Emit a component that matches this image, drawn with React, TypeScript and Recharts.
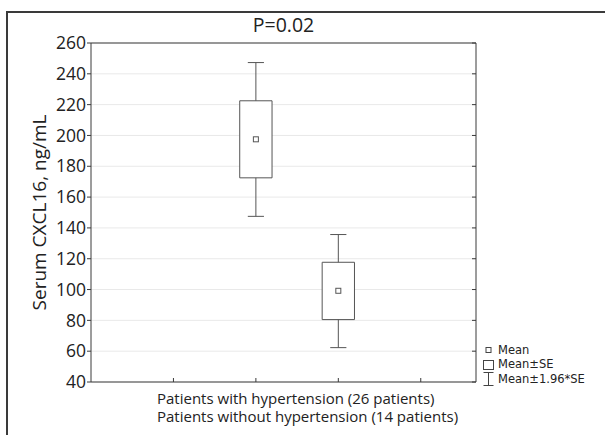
import { CartesianGrid, ComposedChart, Label, ReferenceArea, ReferenceLine, Scatter, XAxis, YAxis } from "recharts"

const groups = ["Patients with hypertension (26 patients)", "Patients without hypertension (14 patients)"]
const groupPos = [2, 3]
const means = [197.5, 99.2]
const boxLow = [172.5, 80.5]
const boxHigh = [222.5, 117.7]
const whiskerLow = [147.5, 62.3]
const whiskerHigh = [247.3, 135.7]

const yTicks = [40, 60, 80, 100, 120, 140, 160, 180, 200, 220, 240, 260]
const xTicks = [1, 2, 3, 4]
const title = "P=0.02"
const yLabel = "Serum CXCL16, ng/mL"
const legendItems = ["Mean", "Mean±SE", "Mean±1.96*SE"]

const font = "'Open Sans', sans-serif"
const ink = "#3a3a3a"
const boxHalf = 0.196
const capHalf = 0.098

const meanPoints = groupPos.map((x, i) => ({ x, y: means[i] }))

const MeanSquare = (props: any) => {
  const { cx, cy } = props
  return <rect x={cx - 2.5} y={cy - 2.5} width={5} height={5} fill="#fff" stroke="#555" strokeWidth={1} />
}

const XLabel = (props: any) => {
  const { x, y } = props.viewBox
  return (
    <text fontFamily={font} fontSize={15} fill="#222">
      <tspan x={x + 66} y={y + 21.5}>{groups[0]}</tspan>
      <tspan x={x + 66} y={y + 40}>{groups[1]}</tspan>
    </text>
  )
}

function LegendBox() {
  const icons = [
    <rect key="m" x={3} y={4.5} width={5} height={5} fill="#fff" stroke="#444" />,
    <rect key="b" x={0.5} y={2.5} width={10} height={9} fill="#fff" stroke="#444" />,
    <g key="w" stroke="#444">
      <line x1={0.5} x2={10.5} y1={0.5} y2={0.5} />
      <line x1={5.5} x2={5.5} y1={0.5} y2={13.5} />
      <line x1={0.5} x2={10.5} y1={13.5} y2={13.5} />
    </g>,
  ]
  return (
    <div
      style={{
        position: "absolute",
        left: 483,
        top: 343,
        fontFamily: "'DejaVu Sans', sans-serif",
        fontSize: 11.5,
        color: "#222",
      }}
    >
      {legendItems.map((t, i) => (
        <div key={t} style={{ display: "flex", alignItems: "center", height: 14.5 }}>
          <svg width={12} height={14} style={{ marginRight: 3 }}>
            {icons[i]}
          </svg>
          <span style={{ lineHeight: "13px" }}>{t}</span>
        </div>
      ))}
    </div>
  )
}

export default function App() {
  return (
    <div style={{ position: "fixed", left: 0, top: 0, width: 605, height: 435, overflow: "hidden", background: "#fff" }}>
      <div style={{ position: "absolute", left: 0, top: 0 }}>
        <ComposedChart width={605} height={435} margin={{ top: 0, right: 0, bottom: 0, left: 0 }}>
          <CartesianGrid vertical={false} stroke="#e9e9e9" />
          <XAxis
            dataKey="x"
            type="number"
            domain={[0, 4.67]}
            ticks={xTicks}
            allowDataOverflow
            height={53}
            tickSize={-4}
            tickFormatter={() => ""}
            axisLine={{ stroke: ink }}
            tickLine={{ stroke: ink }}
          >
            <Label content={<XLabel />} />
          </XAxis>
          <XAxis
            xAxisId="top"
            orientation="top"
            type="number"
            domain={[0, 4.67]}
            ticks={xTicks}
            allowDataOverflow
            height={43}
            tickSize={-4}
            tickFormatter={() => ""}
            axisLine={{ stroke: ink }}
            tickLine={{ stroke: ink }}
          >
            <Label value={title} position="insideBottom" offset={10.7} style={{ fontFamily: font, fontSize: 19.5, fill: "#222" }} />
          </XAxis>
          <YAxis
            type="number"
            domain={[40, 260]}
            ticks={yTicks}
            allowDataOverflow
            width={91}
            tickSize={4}
            tickMargin={1}
            axisLine={{ stroke: ink }}
            tickLine={{ stroke: ink }}
            tick={{ fontFamily: font, fontSize: 17.5, fill: "#222" }}
          >
            <Label
              value={yLabel}
              angle={-90}
              position="insideLeft"
              offset={39}
              style={{ fontFamily: font, fontSize: 19, fill: "#222", textAnchor: "middle" }}
            />
          </YAxis>
          <YAxis
            yAxisId="right"
            orientation="right"
            type="number"
            domain={[40, 260]}
            ticks={yTicks}
            allowDataOverflow
            width={129}
            tickSize={-4}
            tickFormatter={() => ""}
            axisLine={{ stroke: ink }}
            tickLine={{ stroke: ink }}
          />
          {groupPos.map((x, i) => (
            <ReferenceLine key={"wu" + i} segment={[{ x, y: boxHigh[i] }, { x, y: whiskerHigh[i] }]} stroke="#555" />
          ))}
          {groupPos.map((x, i) => (
            <ReferenceLine key={"wl" + i} segment={[{ x, y: boxLow[i] }, { x, y: whiskerLow[i] }]} stroke="#555" />
          ))}
          {groupPos.map((x, i) => (
            <ReferenceLine
              key={"cu" + i}
              segment={[{ x: x - capHalf, y: whiskerHigh[i] }, { x: x + capHalf, y: whiskerHigh[i] }]}
              stroke="#555"
            />
          ))}
          {groupPos.map((x, i) => (
            <ReferenceLine
              key={"cl" + i}
              segment={[{ x: x - capHalf, y: whiskerLow[i] }, { x: x + capHalf, y: whiskerLow[i] }]}
              stroke="#555"
            />
          ))}
          {groupPos.map((x, i) => (
            <ReferenceArea
              key={"b" + i}
              x1={x - boxHalf}
              x2={x + boxHalf}
              y1={boxLow[i]}
              y2={boxHigh[i]}
              fill="#fff"
              fillOpacity={1}
              stroke="#555"
              strokeWidth={1}
            />
          ))}
          <Scatter data={meanPoints} dataKey="y" shape={<MeanSquare />} isAnimationActive={false} />
        </ComposedChart>
      </div>
      <LegendBox />
      <div
        style={{
          position: "absolute",
          left: 6,
          top: 11,
          right: -10,
          bottom: -10,
          borderLeft: `2px solid ${ink}`,
          borderTop: `2px solid ${ink}`,
          pointerEvents: "none",
        }}
      />
    </div>
  )
}
